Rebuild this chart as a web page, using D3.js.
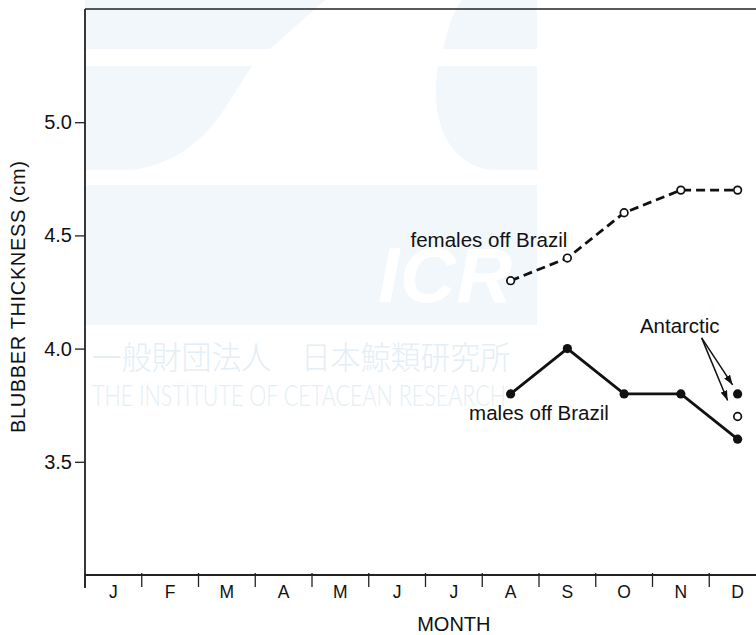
<!DOCTYPE html>
<html>
<head>
<meta charset="utf-8">
<script src="https://cdn.jsdelivr.net/npm/d3@7"></script>
<style>
	body { margin: 0; background: #fff; }
	svg { display: block; font-family: "Liberation Sans", Arial, sans-serif; }
</style>
</head>
<body>
<div id="dataviz-container"></div>
<script>
// months along the x axis (keys must be unique, labels are not)
var months = ["Jan", "Feb", "Mar", "Apr", "May", "Jun", "Jul", "Aug", "Sep", "Oct", "Nov", "Dec"];
var monthLabels = ["J", "F", "M", "A", "M", "J", "J", "A", "S", "O", "N", "D"];

// blubber thickness (cm), Aug - Dec
var seriesMonths = ["Aug", "Sep", "Oct", "Nov", "Dec"];
var femalesBrazil = [4.3, 4.4, 4.6, 4.7, 4.7];
var malesBrazil = [3.8, 4.0, 3.8, 3.8, 3.6];

// Antarctic samples (December)
var antarcticMonth = "Dec";
var antarcticMales = [3.8];
var antarcticFemales = [3.7];

var yTicks = [3.5, 4.0, 4.5, 5.0];
var yDomain = [3.0, 5.5];

var graphWidth = 756,
	graphHeight = 635,
	margins = {"top": 9, "bottom": 60, "left": 85},
	monthWidth = 56.75;

var svg = d3.select("#dataviz-container")
	.append("svg")
	.attr("id", "chart")
	.attr("width", graphWidth)
	.attr("height", graphHeight)

var x = d3.scaleBand()
	.domain(months)
	.range([margins.left, margins.left + months.length * monthWidth])

var y = d3.scaleLinear()
	.domain(yDomain)
	.range([graphHeight - margins.bottom, margins.top])

function xc(m) { return x(m) + x.bandwidth() / 2; }

// faint watermark in the background of the scan
var wm = svg.append("g").attr("class", "watermark")
var wmFill = "#f1f7fb",
	wmText = "#e4eef5";
wm.append("path").attr("d", "M85,0 L325,0 L270,49 L85,49 Z").attr("fill", wmFill)
wm.append("path").attr("d", "M462,0 L537,0 L537,49 L443,49 C448,30 452,12 462,0 Z").attr("fill", wmFill)
wm.append("path").attr("d", "M85,66 L252,66 C225,105 205,160 132,170 L85,170 Z").attr("fill", wmFill)
wm.append("path").attr("d", "M438,66 L537,66 L537,170 L492,170 C455,166 428,130 438,66 Z").attr("fill", wmFill)
wm.append("rect").attr("x", 85).attr("y", 185).attr("width", 452).attr("height", 140).attr("fill", wmFill)
wm.append("text")
	.text("ICR")
	.attr("x", 378).attr("y", 302)
	.attr("font-size", 77).attr("font-weight", "bold").attr("font-style", "italic")
	.attr("textLength", 134)
	.attr("fill", "#fff")
wm.append("text")
	.text("一般財団法人　日本鯨類研究所")
	.attr("x", 92).attr("y", 369)
	.attr("font-family", "'Noto Sans CJK JP', sans-serif")
	.attr("font-weight", 300)
	.attr("font-size", 32)
	.attr("textLength", 418)
	.attr("lengthAdjust", "spacingAndGlyphs")
	.attr("fill", wmText)
wm.append("text")
	.text("THE INSTITUTE OF CETACEAN RESEARCH")
	.attr("x", 92).attr("y", 406)
	.attr("font-family", "Lato, sans-serif")
	.attr("font-weight", 300)
	.attr("font-size", 30)
	.attr("textLength", 414)
	.attr("lengthAdjust", "spacingAndGlyphs")
	.attr("fill", wmText)

// frame: top border and left axis line
svg.append("line")
	.attr("x1", margins.left).attr("x2", x.range()[1])
	.attr("y1", y(yDomain[1])).attr("y2", y(yDomain[1]))
	.attr("stroke", "#222").attr("stroke-width", 1.5)

var yAxis = d3.axisLeft(y)
	.tickValues(yTicks)
	.tickSize(10)
	.tickPadding(3)
	.tickFormat(d3.format(".1f"))

var yLabel = svg.append("g")
	.attr("class", "yAxis")
	.attr("transform", "translate(" + margins.left + ",0)")
	.call(yAxis)

yLabel.select(".domain").remove()
yLabel.selectAll("line").attr("stroke", "#222").attr("stroke-width", 1.3)
yLabel.selectAll("text").attr("font-size", 20).attr("fill", "#111").attr("font-family", null)

svg.append("line")
	.attr("x1", margins.left).attr("x2", margins.left)
	.attr("y1", y(yDomain[1])).attr("y2", y(yDomain[0]) + 13)
	.attr("stroke", "#222").attr("stroke-width", 1.8)

// x axis: baseline, month boundary ticks and centred month letters
svg.append("line")
	.attr("x1", margins.left).attr("x2", x.range()[1])
	.attr("y1", y(yDomain[0])).attr("y2", y(yDomain[0]))
	.attr("stroke", "#222").attr("stroke-width", 1.8)

svg.selectAll("line.monthTick")
	.data(months)
	.enter()
	.append("line")
	.attr("class", "monthTick")
	.attr("x1", function(d) { return x(d); })
	.attr("x2", function(d) { return x(d); })
	.attr("y1", y(yDomain[0]) - 2)
	.attr("y2", y(yDomain[0]) + 12)
	.attr("stroke", "#222").attr("stroke-width", 1.3)

svg.selectAll("text.monthLabel")
	.data(months)
	.enter()
	.append("text")
	.attr("class", "monthLabel")
	.attr("x", function(d) { return xc(d); })
	.attr("y", y(yDomain[0]) + 23)
	.attr("text-anchor", "middle")
	.attr("font-size", 17.5)
	.attr("fill", "#111")
	.text(function(d, i) { return monthLabels[i]; })

svg.append("text")
	.text("MONTH")
	.attr("x", xc("Jul"))
	.attr("y", y(yDomain[0]) + 56)
	.attr("text-anchor", "middle")
	.attr("font-size", 20)
	.attr("fill", "#111")

svg.append("text")
	.text("BLUBBER THICKNESS (cm)")
	.attr("transform", "translate(25," + (y(4.25) + 5) + ") rotate(-90)")
	.attr("text-anchor", "middle")
	.attr("font-size", 20)
	.attr("textLength", 272)
	.attr("fill", "#111")

// series
var lineGen = d3.line()
	.x(function(d) { return xc(d.month); })
	.y(function(d) { return y(d.value); })

function toPoints(values) {
	return values.map(function(v, i) { return {"month": seriesMonths[i], "value": v}; });
}

var females = toPoints(femalesBrazil),
	males = toPoints(malesBrazil);

svg.append("path")
	.attr("class", "femaleLine")
	.attr("d", lineGen(females))
	.attr("fill", "none")
	.attr("stroke", "#111")
	.attr("stroke-width", 2.8)
	.attr("stroke-dasharray", "9,5")

svg.append("path")
	.attr("class", "maleLine")
	.attr("d", lineGen(males))
	.attr("fill", "none")
	.attr("stroke", "#111")
	.attr("stroke-width", 2.8)

svg.selectAll("circle.female")
	.data(females.concat(antarcticFemales.map(function(v) { return {"month": antarcticMonth, "value": v}; })))
	.enter()
	.append("circle")
	.attr("class", "female")
	.attr("cx", function(d) { return xc(d.month); })
	.attr("cy", function(d) { return y(d.value); })
	.attr("r", 3.8)
	.attr("fill", "#fff")
	.attr("stroke", "#111")
	.attr("stroke-width", 1.7)

svg.selectAll("circle.male")
	.data(males.concat(antarcticMales.map(function(v) { return {"month": antarcticMonth, "value": v}; })))
	.enter()
	.append("circle")
	.attr("class", "male")
	.attr("cx", function(d) { return xc(d.month); })
	.attr("cy", function(d) { return y(d.value); })
	.attr("r", 4.6)
	.attr("fill", "#111")

// annotations
svg.append("text")
	.text("females off Brazil")
	.attr("x", xc("Sep"))
	.attr("y", y(4.5) + 12)
	.attr("text-anchor", "end")
	.attr("font-size", 20.5)
	.attr("fill", "#111")

svg.append("text")
	.text("males off Brazil")
	.attr("x", x("Sep"))
	.attr("y", y(3.8) + 26)
	.attr("text-anchor", "middle")
	.attr("font-size", 20.5)
	.attr("fill", "#111")

svg.append("text")
	.text("Antarctic")
	.attr("x", xc(antarcticMonth) - 18)
	.attr("y", y(antarcticMales[0]) - 61)
	.attr("text-anchor", "end")
	.attr("font-size", 20.5)
	.attr("fill", "#111")

svg.append("defs").append("marker")
	.attr("id", "arrow")
	.attr("viewBox", "0 0 10 7")
	.attr("refX", 10).attr("refY", 3.5)
	.attr("markerWidth", 10).attr("markerHeight", 7)
	.attr("markerUnits", "userSpaceOnUse")
	.attr("orient", "auto")
	.append("path")
	.attr("d", "M0,0 L10,3.5 L0,7 Z")
	.attr("fill", "#111")

var arrowStartX = xc(antarcticMonth) - 36,
	arrowStartY = y(antarcticMales[0]) - 56;

svg.append("line")
	.attr("x1", arrowStartX).attr("y1", arrowStartY)
	.attr("x2", xc(antarcticMonth) - 5).attr("y2", y(antarcticMales[0]) - 9)
	.attr("stroke", "#111").attr("stroke-width", 1.5)
	.attr("marker-end", "url(#arrow)")

svg.append("line")
	.attr("x1", arrowStartX).attr("y1", arrowStartY)
	.attr("x2", xc(antarcticMonth) - 10).attr("y2", y(antarcticFemales[0]) - 16)
	.attr("stroke", "#111").attr("stroke-width", 1.5)
	.attr("marker-end", "url(#arrow)")
</script>
</body>
</html>
